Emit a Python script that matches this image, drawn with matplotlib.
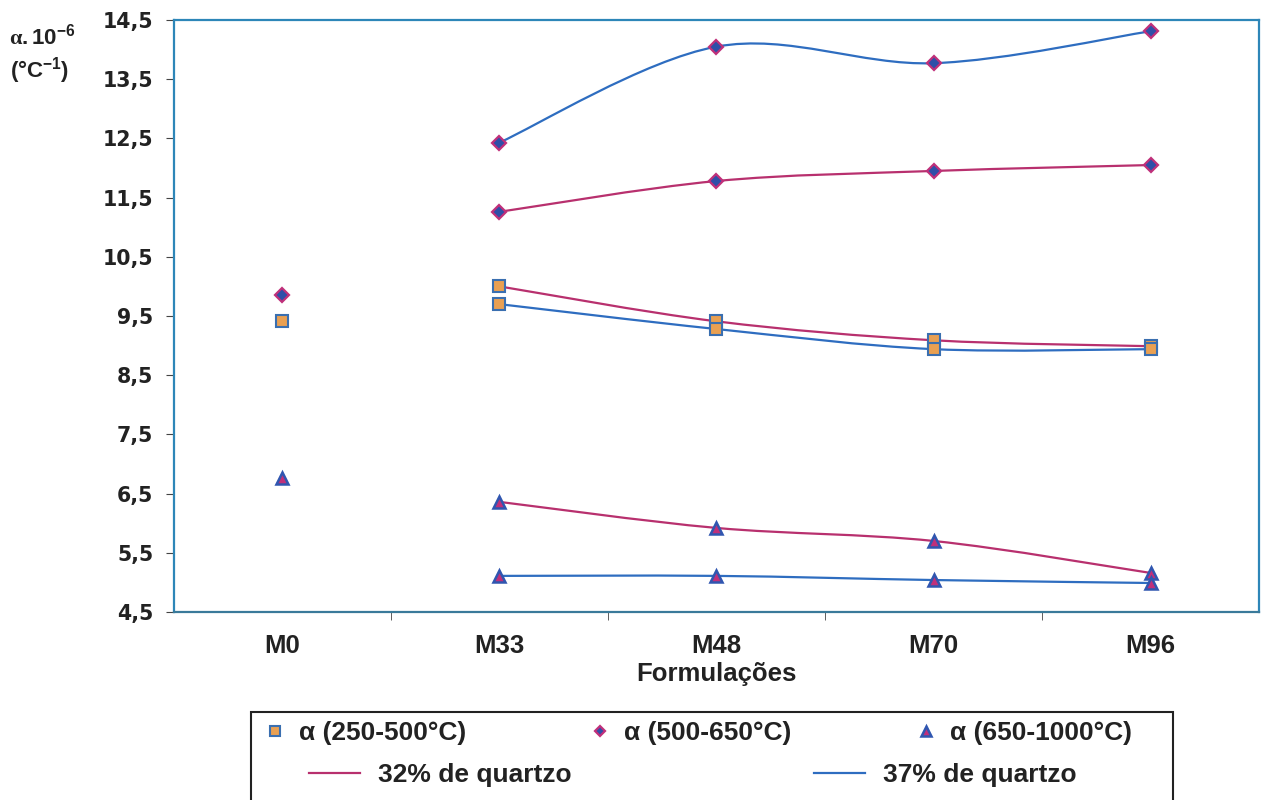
import numpy as np
import matplotlib
matplotlib.use('Agg')
import matplotlib.pyplot as plt
from matplotlib.path import Path
from matplotlib.patches import PathPatch, Rectangle
from matplotlib.lines import Line2D

plt.rcParams['font.family'] = ['Liberation Sans', 'DejaVu Sans']
plt.rcParams['font.weight'] = 'bold'
plt.rcParams['axes.labelweight'] = 'bold'
plt.rcParams['mathtext.fontset'] = 'custom'
plt.rcParams['mathtext.rm'] = 'Liberation Sans:bold'
plt.rcParams['mathtext.bf'] = 'Liberation Sans:bold'
plt.rcParams['mathtext.it'] = 'Liberation Serif'

formulacoes = ['M0', 'M33', 'M48', 'M70', 'M96']

# M0 (sem quartzo) - pontos isolados
m0_250 = 9.42
m0_500 = 9.86
m0_650 = 6.77

# M33..M96, 32% de quartzo
q32_250 = [10.00, 9.41, 9.09, 8.99]
q32_500 = [11.26, 11.78, 11.95, 12.05]
q32_650 = [6.36, 5.92, 5.70, 5.16]

# M33..M96, 37% de quartzo
q37_250 = [9.70, 9.28, 8.94, 8.94]
q37_500 = [12.43, 14.05, 13.77, 14.31]
q37_650 = [5.11, 5.11, 5.04, 4.99]

c_mag = '#b8306e'
c_blue = '#2e6dc0'
c_frame = '#2d86b8'
c_txt = '#222222'

sq = dict(marker='s', ms=9, mfc='#e9a052', mec='#3a6fb0', mew=1.5, ls='none')
dm = dict(marker='D', ms=7.5, mfc='#2f4fa8', mec='#c0307a', mew=1.6, ls='none')
tr = dict(marker='^', ms=9, mfc='#c0307a', mec='#3056b0', mew=1.8, ls='none')


def smooth_path(xs, ys):
    # excel-like smoothed line: cubic bezier through the points
    pts = np.column_stack([xs, ys]).astype(float)
    verts = [pts[0]]
    codes = [Path.MOVETO]
    n = len(pts)
    for i in range(n - 1):
        p0 = pts[i - 1] if i > 0 else pts[i]
        p1 = pts[i]
        p2 = pts[i + 1]
        p3 = pts[i + 2] if i + 2 < n else pts[i + 1]
        c1 = p1 + (p2 - p0) / 6.0
        c2 = p2 - (p3 - p1) / 6.0
        verts += [c1, c2, p2]
        codes += [Path.CURVE4] * 3
    return Path(verts, codes)


fig = plt.figure(figsize=(12.67, 8.0), dpi=100)
ax = fig.add_axes([0.1373, 0.235, 0.8564, 0.74])

xs = np.arange(1, len(formulacoes))
for series, col in [(q32_250, c_mag), (q32_500, c_mag), (q32_650, c_mag),
                    (q37_250, c_blue), (q37_500, c_blue), (q37_650, c_blue)]:
    ax.add_patch(PathPatch(smooth_path(xs, series), fc='none', ec=col, lw=1.6, zorder=2))

ax.plot(xs, q32_250, zorder=3, **sq)
ax.plot(xs, q37_250, zorder=3, **sq)
ax.plot(xs, q32_500, zorder=3, **dm)
ax.plot(xs, q37_500, zorder=3, **dm)
ax.plot(xs, q32_650, zorder=3, **tr)
ax.plot(xs, q37_650, zorder=3, **tr)
ax.plot([0], [m0_250], zorder=3, **sq)
ax.plot([0], [m0_500], zorder=3, **dm)
ax.plot([0], [m0_650], zorder=3, **tr)

ax.set_xlim(-0.5, len(formulacoes) - 0.5)
ax.set_ylim(4.5, 14.5)
yt = np.arange(4.5, 14.6, 1.0)
ax.set_yticks(yt)
ax.set_yticklabels([f'{v:.1f}'.replace('.', ',') for v in yt], fontsize=14.8,
                   color=c_txt, family=['DejaVu Sans'])
ax.set_xticks(range(len(formulacoes)))
ax.set_xticklabels(formulacoes, fontsize=18.5, color=c_txt)
ax.set_xticks(np.arange(0.5, len(formulacoes) - 1, 1.0), minor=True)
ax.tick_params(axis='x', which='major', length=0, pad=16)
ax.tick_params(axis='x', which='minor', length=6, direction='out', color='#444444')
ax.tick_params(axis='y', length=6, direction='out', color='#444444', pad=9)
ax.set_xlabel('Formulações', fontsize=18.5, color=c_txt, labelpad=3)

for s in ['left', 'top', 'right']:
    ax.spines[s].set_color(c_frame)
    ax.spines[s].set_linewidth(1.6)
ax.spines['bottom'].set_color('#3a7a9a')
ax.spines['bottom'].set_linewidth(1.6)

fig.text(0.033, 0.954, r'$\alpha\mathrm{.10^{-6}}$', fontsize=16, ha='center', va='center', color=c_txt)
fig.text(0.031, 0.912, r'$\mathrm{(°C^{-1})}$', fontsize=16, ha='center', va='center', color=c_txt)

# legend box
fig.patches.append(Rectangle((251 / 1267, -0.02), (1173 - 251) / 1267, 0.02 + (800 - 712) / 800,
                             transform=fig.transFigure, fill=False, ec=c_txt, lw=1.5))

h1 = [Line2D([], [], **dict(sq, ms=7)), Line2D([], [], **dict(dm, ms=5.5)), Line2D([], [], **dict(tr, ms=7))]
l1 = ['α (250-500°C)', 'α (500-650°C)', 'α (650-1000°C)']
leg1 = fig.legend(h1, l1, ncol=3, loc='center', bbox_to_anchor=(0.551, 1 - 733 / 800),
                  frameon=False, fontsize=19, handlelength=0.8, handletextpad=0.5,
                  columnspacing=4.7)
h2 = [Line2D([], [], color=c_mag, lw=1.6), Line2D([], [], color=c_blue, lw=1.6)]
l2 = ['32% de quartzo', '37% de quartzo']
leg2 = fig.legend(h2, l2, ncol=2, loc='center', bbox_to_anchor=(0.547, 1 - 775 / 800),
                  frameon=False, fontsize=19, handlelength=1.9, handletextpad=0.7,
                  columnspacing=9.2)
for t in leg1.get_texts() + leg2.get_texts():
    t.set_color(c_txt)

fig.savefig('out.png', dpi=100)
